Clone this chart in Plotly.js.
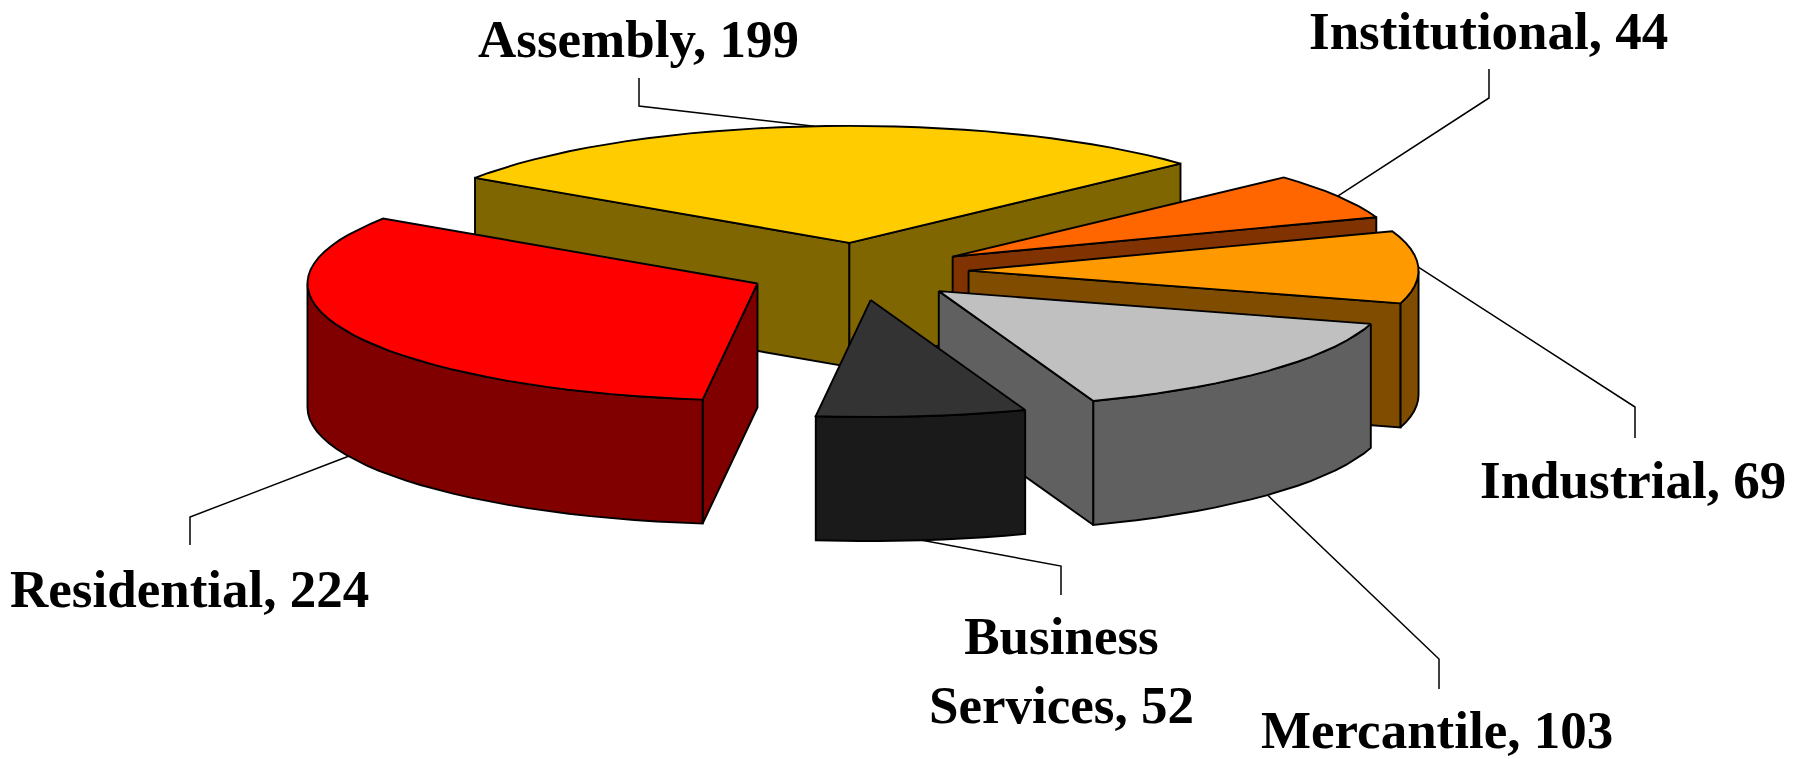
<!DOCTYPE html>
<html><head><meta charset="utf-8">
<script src="https://cdn.plot.ly/plotly-3.0.1.min.js"></script>
<style>html,body{margin:0;padding:0;background:#fff}#c{width:1806px;height:759px}</style>
</head><body><div id="c"></div>
<script>
// Data
const categories = ["Residential","Assembly","Institutional","Industrial","Mercantile","Business Services"];
const values = [224,199,44,69,103,52];
const labelText = ["Residential, 224","Assembly, 199","Institutional, 44","Industrial, 69","Mercantile, 103","Business<br>Services, 52"];
const topColors = ["#FF0000","#FFCC00","#FF6600","#FF9900","#C0C0C0","#333333"];
const sideColors = ["#800000","#806600","#803300","#804D00","#606060","#1A1A1A"];
const labelX = [189,638,1488,1633,1437,1061];
const labelY = [589,39,31,480,730,670];
const elbowX = [190,639,1489,1635,1439,1061];
const elbowY = [517,106,98,407,659,566];
const elbowEndY = [545,78,69,438,689,595];
const drawOrder = [1,2,3,4,0,5];

// Pie geometry (oblique view)
const firstSliceAngle = 187.0, cx = 858, cy = 271.5, R = 450, tilt = 0.26, explode = 110.6, depth = 124;
const rad = d => d*Math.PI/180;
const total = values.reduce((a,b)=>a+b,0);
let acc = firstSliceAngle;
const slices = values.map(v=>{const a0=acc; acc+=v/total*360; return {a0,a1:acc,mid:(a0+acc)/2};});
slices.forEach(s=>{
  s.ax = cx + explode*Math.sin(rad(s.mid));
  s.ay = cy - explode*tilt*Math.cos(rad(s.mid));
});
const rim = (s,a)=>[s.ax+R*Math.sin(rad(a)), s.ay-R*tilt*Math.cos(rad(a))];

const traces = [];
function poly(px,py,color){
  traces.push({type:'scatter',mode:'lines',x:px.concat(px[0]),y:py.concat(py[0]),fill:'toself',fillcolor:color,
    line:{color:'#000',width:1.9,shape:'linear'},hoverinfo:'skip',showlegend:false});
}
function wall(pts,color){
  const px=pts.map(p=>p[0]), py=pts.map(p=>p[1]);
  const bx=px.slice().reverse(), by=py.slice().reverse().map(y=>y+depth);
  poly(px.concat(bx),py.concat(by),color);
}
function arcPts(s,a0,a1){
  const n=Math.max(2,Math.ceil((a1-a0)/3)), o=[];
  for(let i=0;i<=n;i++) o.push(rim(s,a0+(a1-a0)*i/n));
  return o;
}
drawOrder.forEach(i=>{
  const s=slices[i], side=sideColors[i];
  // radial faces that turn toward the viewer
  [s.a0,s.a1].forEach((a,k)=>{
    const nrm = k===0 ? a-90 : a+90;      // outward normal of the face
    if(Math.cos(rad(nrm))<0) wall([[s.ax,s.ay],rim(s,a)],side);
  });
  // outer wall: only the front half of the rim (90..270 clockwise from the back)
  for(const k of [0,360]){
    const lo=Math.max(s.a0,90+k), hi=Math.min(s.a1,270+k);
    if(hi>lo) wall(arcPts(s,lo,hi),side);
  }
  // top
  const t=arcPts(s,s.a0,s.a1);
  poly([s.ax].concat(t.map(p=>p[0])),[s.ay].concat(t.map(p=>p[1])),topColors[i]);
});
// leader lines
slices.forEach((s,i)=>{
  const p=rim(s,s.mid), front=Math.cos(rad(s.mid))<0 && Math.abs(Math.sin(rad(s.mid)))<0.99;
  traces.push({type:'scatter',mode:'lines',x:[p[0],elbowX[i],elbowX[i]],y:[p[1]+(front?depth:0),elbowY[i],elbowEndY[i]],
    line:{color:'#000',width:1.5},hoverinfo:'skip',showlegend:false});
});
const annotations = labelText.map((t,i)=>({x:labelX[i],y:labelY[i],xref:'x',yref:'y',text:t,showarrow:false,
  xanchor:'center',yanchor:'middle',font:{family:'"Liberation Serif","Times New Roman",serif',size:53,color:'#000',weight:700}}));
Plotly.newPlot('c',traces,{
  width:1806,height:759,margin:{l:0,r:0,t:0,b:0},paper_bgcolor:'#fff',plot_bgcolor:'#fff',showlegend:false,
  xaxis:{range:[0,1806],visible:false,fixedrange:true},
  yaxis:{range:[759,0],visible:false,fixedrange:true},
  annotations
},{displayModeBar:false,staticPlot:true});
</script></body></html>
